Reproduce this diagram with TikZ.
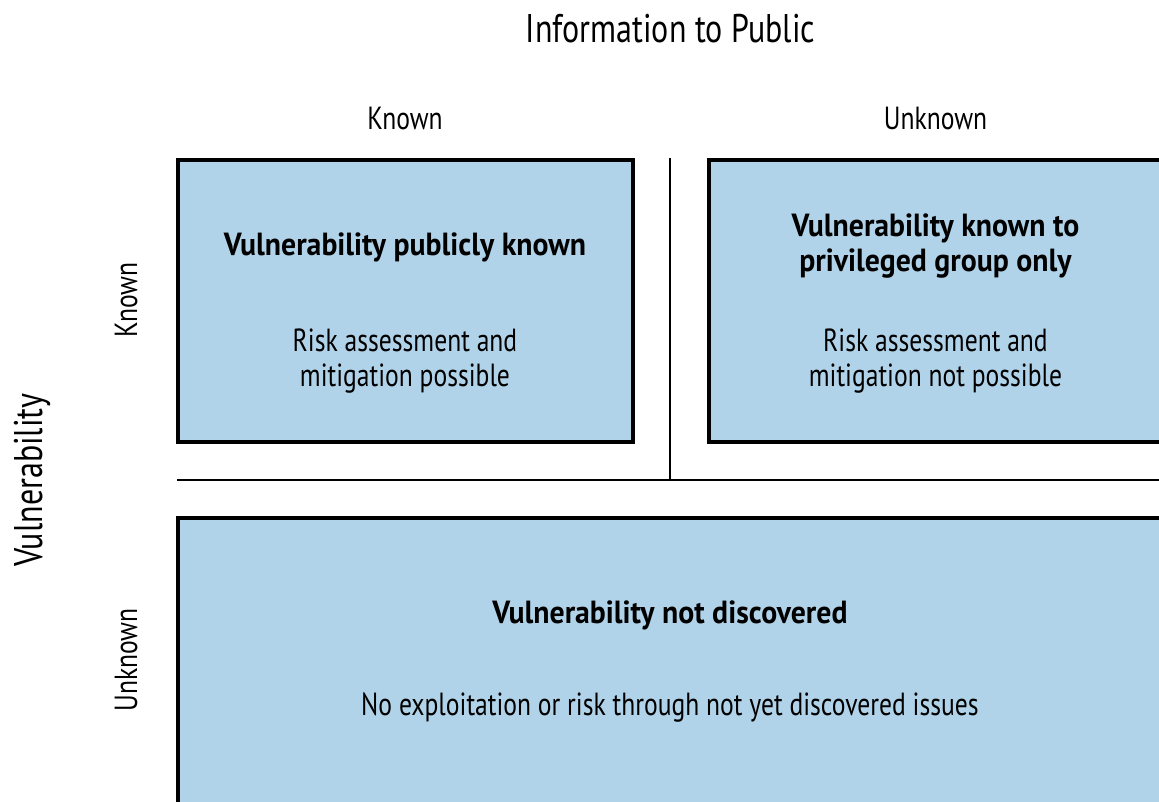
\documentclass[tikz,border=0pt]{standalone}
\usepackage{fontspec}
\setmainfont[FakeStretch=0.8, BoldFeatures={FakeStretch=0.93}]{PT Sans}
\usepackage{tikz}

\definecolor{cellblue}{RGB}{177,211,233}

\tikzset{
  cell/.style={draw, rectangle, fill=cellblue, line width=4pt, inner sep=0pt},
  txt/.style={anchor=base, inner sep=0pt, align=center, font=\fontsize{32}{35.5}\selectfont},
  headtxt/.style={txt, font=\fontsize{32}{35}\selectfont\bfseries},
  bigtxt/.style={anchor=base, inner sep=0pt, font=\fontsize{40}{48}\selectfont},
  sep/.style={line width=2pt}
}

\begin{document}
\begin{tikzpicture}[x=1pt, y=-1pt]
\useasboundingbox (0,0) rectangle (1159,801);
\clip (0,0) rectangle (1159,801);

\node[cell, minimum width=455pt, minimum height=282.5pt] at (405.1,300.75) (kk) {};
\node[cell, minimum width=461.5pt, minimum height=282.5pt] at (939.25,300.75) (ku) {};
\node[cell, minimum width=992.5pt, minimum height=287pt] at (673.75,661.5) (uu) {};

\coordinate (vtop) at (670,158);
\coordinate (vbot) at (670,480);
\coordinate (hleft) at (177,480);
\coordinate (hright) at (1170,480);
\draw[sep] (vtop) -- (vbot);
\draw[sep] (hleft) -- (hright);

% axis labels
\node[bigtxt] at (670.5,42) (info) {Information to Public};
\node[txt] at (405,129.3) (pk) {Known};
\node[txt] at (935.5,129.3) (pu) {Unknown};
\node[bigtxt, rotate=90] at (42,480) (vuln) {Vulnerability};
\node[txt, rotate=90] at (137,300) (vk) {Known};
\node[txt, rotate=90] at (137,660) (vu) {Unknown};

% cells
\node[headtxt] at (405,255) (kkhead) {Vulnerability publicly known};
\node[txt] at (405,386.7) (kkbody) {Risk assessment and\\mitigation possible};
\node[headtxt] at (935.5,271.7) (kuhead) {Vulnerability known to\\privileged group only};
\node[txt] at (935.5,386.7) (kubody) {Risk assessment and\\mitigation not possible};
\node[headtxt] at (670,623.3) (uuhead) {Vulnerability not discovered};
\node[txt] at (670,715) (uubody) {No exploitation or risk through not yet discovered issues};

\end{tikzpicture}
\end{document}
